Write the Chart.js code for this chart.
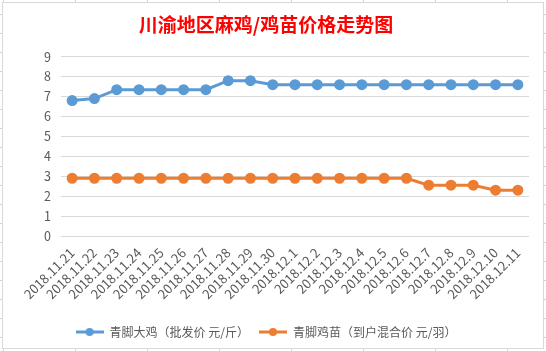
<!DOCTYPE html>
<html lang="zh">
<head>
    <meta charset="UTF-8">
    <title>川渝地区麻鸡/鸡苗价格走势图</title>
    <style>
        html, body { margin: 0; padding: 0; }
        body {
            width: 546px; height: 351px; position: relative; overflow: hidden;
            background-color: #fff;
            background-image: linear-gradient(to right, #d4d4d4 1px, transparent 1px),
                              linear-gradient(to bottom, #d4d4d4 1px, transparent 1px);
            background-size: 72px 19px;
            background-position: 3px 14px;
        }
        #box {
            position: absolute; left: 2px; top: 2px;
            width: 540px; height: 345px;
            background: #fff; border: 1px solid #d9d9d9;
        }
        canvas { display: block; }
    </style>
</head>
<body>
    <div id="box"><canvas id="chart" width="540" height="345"></canvas></div>

    <script src="https://cdn.jsdelivr.net/npm/chart.js"></script>
    <script>
        // 数据
        const dates = ['2018.11.21', '2018.11.22', '2018.11.23', '2018.11.24', '2018.11.25',
            '2018.11.26', '2018.11.27', '2018.11.28', '2018.11.29', '2018.11.30',
            '2018.12.1', '2018.12.2', '2018.12.3', '2018.12.4', '2018.12.5', '2018.12.6',
            '2018.12.7', '2018.12.8', '2018.12.9', '2018.12.10', '2018.12.11'];
        const daJi = [6.8, 6.9, 7.35, 7.35, 7.35, 7.35, 7.35, 7.8, 7.8, 7.6,
            7.6, 7.6, 7.6, 7.6, 7.6, 7.6, 7.6, 7.6, 7.6, 7.6, 7.6];
        const jiMiao = [2.9, 2.9, 2.9, 2.9, 2.9, 2.9, 2.9, 2.9, 2.9, 2.9,
            2.9, 2.9, 2.9, 2.9, 2.9, 2.9, 2.55, 2.55, 2.55, 2.3, 2.3];
        const yTicks = [0, 1, 2, 3, 4, 5, 6, 7, 8, 9];

        const BLUE = '#5B9BD5';
        const ORANGE = '#ED7D31';
        const FONT = "'Noto Sans CJK SC', 'Noto Sans', sans-serif";

        // 图例里的 线+圆点 小图标
        function legendIcon(color) {
            const c = document.createElement('canvas');
            c.width = 28; c.height = 10;
            const g = c.getContext('2d');
            g.strokeStyle = color; g.lineWidth = 3;
            g.beginPath(); g.moveTo(0, 5); g.lineTo(28, 5); g.stroke();
            g.fillStyle = color;
            g.beginPath(); g.arc(14, 5, 4, 0, Math.PI * 2); g.fill();
            return c;
        }
        const icons = [legendIcon(BLUE), legendIcon(ORANGE)];

        const ctx = document.getElementById('chart').getContext('2d');
        new Chart(ctx, {
            type: 'line',
            data: {
                labels: dates,
                datasets: [{
                    label: '青脚大鸡（批发价 元/斤）',
                    data: daJi,
                    borderColor: BLUE, backgroundColor: BLUE,
                    borderWidth: 3, pointRadius: 4, pointHoverRadius: 4,
                    tension: 0
                }, {
                    label: '青脚鸡苗（到户混合价 元/羽）',
                    data: jiMiao,
                    borderColor: ORANGE, backgroundColor: ORANGE,
                    borderWidth: 3, pointRadius: 4, pointHoverRadius: 4,
                    tension: 0
                }]
            },
            options: {
                responsive: false,
                animation: false,
                layout: { padding: { left: 0, right: 14, top: 0, bottom: 0 } },
                plugins: {
                    title: {
                        display: true,
                        text: '川渝地区麻鸡/鸡苗价格走势图',
                        color: '#FF0000',
                        font: { family: FONT, size: 19, weight: 'bold' },
                        padding: { top: 10, bottom: 21 }
                    },
                    legend: {
                        position: 'bottom',
                        labels: {
                            color: '#595959',
                            font: { family: FONT, size: 12 },
                            usePointStyle: true,
                            pointStyleWidth: 28,
                            padding: 10,
                            generateLabels: (chart) => {
                                const items = Chart.defaults.plugins.legend.labels.generateLabels(chart);
                                items.forEach((it, i) => { it.pointStyle = icons[i]; });
                                return items;
                            }
                        }
                    },
                    tooltip: { enabled: false }
                },
                scales: {
                    x: {
                        offset: true,
                        afterFit: (s) => { s.height = 80; },
                        grid: { display: false, drawTicks: false },
                        border: { display: false },
                        ticks: {
                            color: '#595959',
                            font: { family: FONT, size: 13 },
                            maxRotation: 45, minRotation: 45,
                            autoSkip: false, padding: 9
                        }
                    },
                    y: {
                        min: 0, max: 9,
                        afterFit: (s) => { s.width = 58; },
                        afterBuildTicks: (s) => { s.ticks = yTicks.map(v => ({ value: v })); },
                        grid: { color: '#d9d9d9', drawTicks: false },
                        border: { display: false },
                        ticks: {
                            color: '#595959',
                            font: { family: FONT, size: 12.5 },
                            padding: 10
                        }
                    }
                }
            }
        });
    </script>
</body>
</html>
